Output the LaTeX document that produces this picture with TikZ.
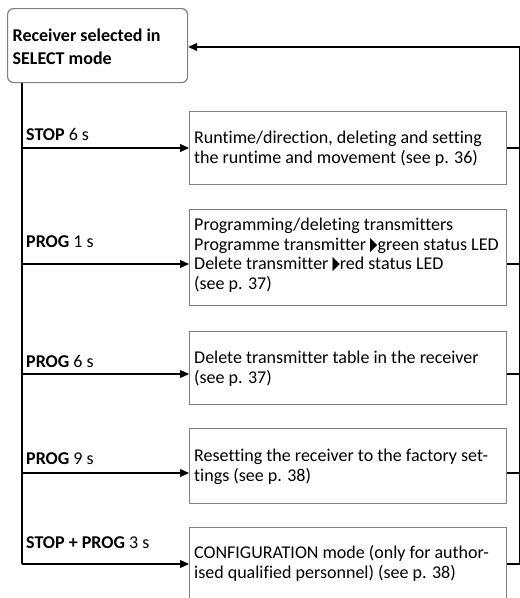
\documentclass[tikz,border=0pt]{standalone}
\usepackage{fontspec}
\usepackage{graphicx}
\setmainfont{Carlito}[Ligatures=NoCommon]
\newfontfamily\symfont{DejaVu Sans}
\usetikzlibrary{arrows.meta}
\definecolor{boxgray}{HTML}{808080}
\newcommand{\tri}{{\symfont\fontsize{19}{19}\selectfont\scalebox{0.5}[1]{▶}}}
\begin{document}
\begin{tikzpicture}[x=1pt,y=-1pt,
  box/.style={draw=boxgray, line width=1.2pt, inner sep=0pt, anchor=north west},
  txt/.style={anchor=base west, inner sep=0pt, font=\fontsize{18}{19.7}\selectfont, align=left},
  lbl/.style={anchor=base west, inner sep=0pt, font=\fontsize{18}{19.7}\selectfont},
  conn/.style={line width=1.1pt},
  arr/.style={conn, -{Triangle[length=9pt,width=8pt]}}]
\useasboundingbox (0,0) rectangle (520,598);
\clip (0,0) rectangle (520,598);

% top node
\node[box, rounded corners=6pt, minimum width=180pt, minimum height=74pt] (sel) at (7,8) {};
\node[txt, font=\bfseries\fontsize{18}{22.3}\selectfont] (seltxt) at (12.5,64) {Receiver selected in\\SELECT mode};

% boxes
\node[box, minimum width=317pt, minimum height=73pt] (b1) at (189,111) {};
\node[box, minimum width=317pt, minimum height=96pt] (b2) at (189,209) {};
\node[box, minimum width=317pt, minimum height=73pt] (b3) at (189,331) {};
\node[box, minimum width=317pt, minimum height=75pt] (b4) at (189,428) {};
\node[box, minimum width=317pt, minimum height=80pt] (b5) at (189,527) {};

\node[txt] (x1) at (194,163) {Runtime/direction, deleting and setting\\the runtime and movement (see p. 36)};
\node[txt] (x2) at (194,289.5) {Programming/deleting transmitters\\Programme transmitter \tri green status LED\\Delete transmitter \tri red status LED\\(see p. 37)};
\node[txt] (x3) at (194,383) {Delete transmitter table in the receiver\\(see p. 37)};
\node[txt] (x4) at (194,481) {Resetting the receiver to the factory set-\\tings (see p. 38)};
\node[txt] (x5) at (194,578) {CONFIGURATION mode (only for author-\\ised qualified personnel) (see p. 38)};

% labels
\node[lbl] (l1) at (26,140) {\textbf{STOP} 6 s};
\node[lbl] (l2) at (26,247) {\textbf{PROG} 1 s};
\node[lbl] (l3) at (26,367) {\textbf{PROG} 6 s};
\node[lbl] (l4) at (26,464) {\textbf{PROG} 9 s};
\node[lbl] (l5) at (26,548) {\textbf{STOP + PROG} 3 s};

% trunk coordinates
\coordinate (t1) at (22,148);
\coordinate (t2) at (22,264);
\coordinate (t3) at (22,374);
\coordinate (t4) at (22,473);
\coordinate (t5) at (22,564);
\coordinate (r0) at (520,47);

\draw[conn] (sel.south -| t5) -- (t5);
\foreach \i in {1,...,5}{
  \draw[arr] (t\i) -- (t\i -| b\i.west);
  \draw[conn] (t\i -| b\i.east) -- (t\i -| r0);
}
\draw[conn] (r0) -- (r0 |- t5);
\draw[arr] (r0) -- (r0 -| sel.east);
\end{tikzpicture}
\end{document}
